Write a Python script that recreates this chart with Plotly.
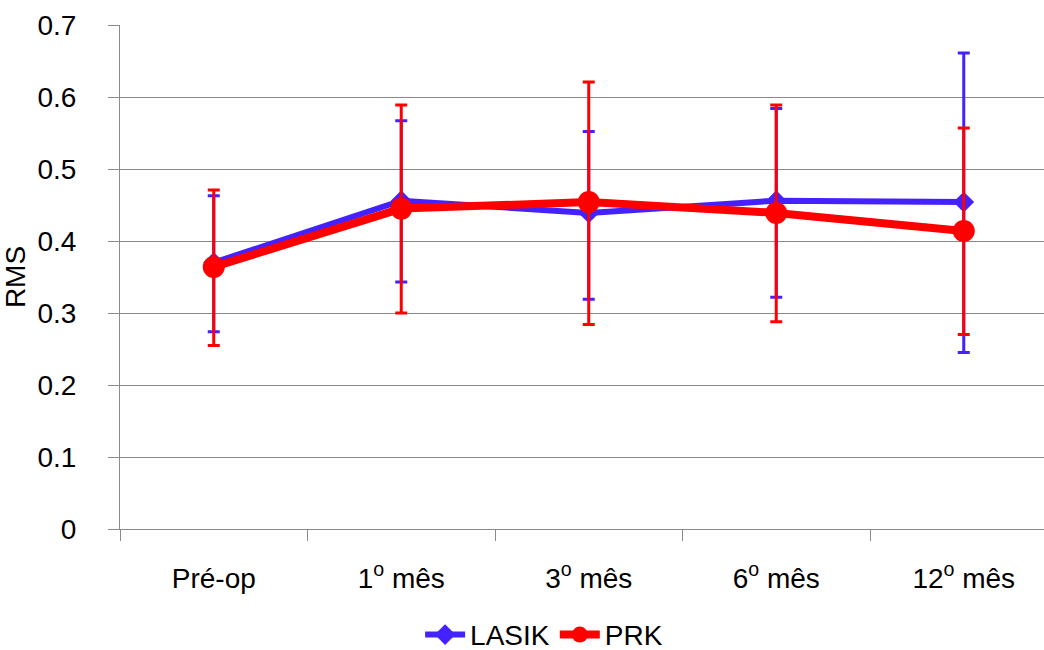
import plotly.graph_objects as go

# Follow-up time points
categories = ["Pré-op", "1<sup>o</sup> mês", "3<sup>o</sup> mês", "6<sup>o</sup> mês", "12<sup>o</sup> mês"]

# Mean RMS and error bar limits per group
lasik_mean = [0.370, 0.456, 0.439, 0.456, 0.454]
lasik_upper = [0.463, 0.567, 0.552, 0.584, 0.661]
lasik_lower = [0.274, 0.343, 0.319, 0.322, 0.245]

prk_mean = [0.364, 0.445, 0.454, 0.439, 0.414]
prk_upper = [0.471, 0.589, 0.621, 0.589, 0.557]
prk_lower = [0.255, 0.300, 0.284, 0.288, 0.270]

BLUE = "#4422FF"
RED = "#FF0000"
GRID = "#8A8A8A"
FONT = "Liberation Sans, Arial, sans-serif"
FS = 28


def err(mean, upper, lower, color):
    return dict(
        type="data",
        symmetric=False,
        array=[u - m for u, m in zip(upper, mean)],
        arrayminus=[m - l for m, l in zip(mean, lower)],
        color=color,
        thickness=3,
        width=6,
    )


fig = go.Figure()
fig.add_trace(go.Scatter(
    x=categories, y=lasik_mean, name="LASIK", mode="lines+markers",
    line=dict(color=BLUE, width=6),
    marker=dict(symbol="diamond", size=16, color=BLUE),
    error_y=err(lasik_mean, lasik_upper, lasik_lower, BLUE),
))
fig.add_trace(go.Scatter(
    x=categories, y=prk_mean, name="PRK", mode="lines+markers",
    line=dict(color=RED, width=8),
    marker=dict(symbol="circle", size=22, color=RED),
    error_y=err(prk_mean, prk_upper, prk_lower, RED),
))

fig.update_layout(
    width=1044, height=650,
    margin=dict(l=120, r=0, t=25, b=121, autoexpand=False),
    paper_bgcolor="white", plot_bgcolor="white",
    font=dict(family=FONT, size=FS, color="black"),
    showlegend=True,
    legend=dict(
        orientation="h", x=0.459, xanchor="center", y=-0.21, yanchor="middle",
        font=dict(size=FS), itemwidth=40, tracegroupgap=0,
    ),
)

fig.update_xaxes(
    type="category", range=[-0.5, 4.428], tickson="boundaries",
    showgrid=False, showline=True, linecolor=GRID, linewidth=1,
    ticks="outside", ticklen=11, tickcolor=GRID, ticklabelstandoff=24,
    tickfont=dict(size=FS), zeroline=False, automargin=False,
)
fig.update_yaxes(
    range=[0, 0.7], dtick=0.1,
    showgrid=True, gridcolor=GRID, gridwidth=1,
    showline=True, linecolor=GRID, linewidth=1,
    ticks="outside", ticklen=11, tickcolor=GRID, ticklabelstandoff=26,
    tickfont=dict(size=FS), zeroline=False, automargin=False,
    title=dict(text="RMS", font=dict(size=FS), standoff=10),
)

fig.write_html("out.html")
